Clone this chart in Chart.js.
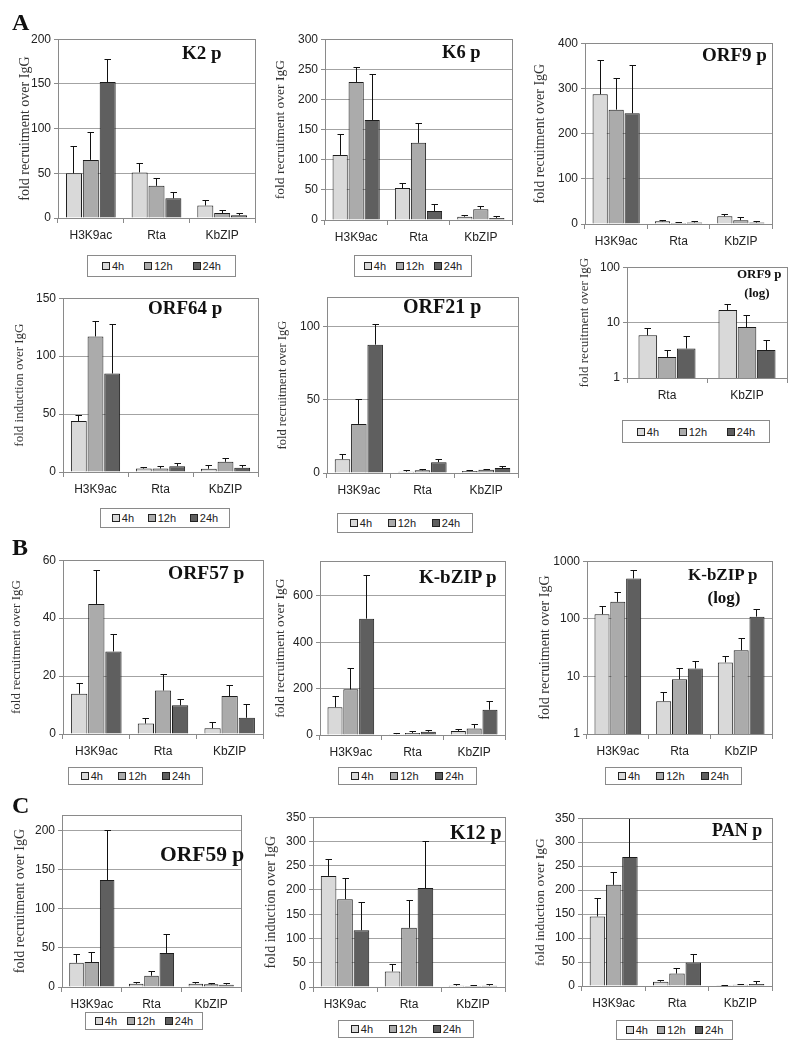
<!DOCTYPE html>
<html><head><meta charset="utf-8">
<script src="https://cdn.jsdelivr.net/npm/chart.js@4.4.0/dist/chart.umd.min.js"></script>
<style>
html,body{margin:0;padding:0;background:#fff;}
#root{position:relative;width:790px;height:1050px;overflow:hidden;background:#fff;}
canvas{position:absolute;}
.t{position:absolute;font-family:'Liberation Serif','Times New Roman',serif;font-weight:bold;line-height:1;white-space:nowrap;color:#111;}
.lg{position:absolute;border:1px solid #8a8a8a;box-sizing:border-box;display:flex;align-items:center;justify-content:space-around;font:11px 'Liberation Sans',Arial,sans-serif;color:#222;background:#fff;padding:0 4px;}
.lg .it{display:flex;align-items:center;}
.lg .sw{display:inline-block;width:6px;height:6px;border:1px solid #222;margin-right:2px;}
</style></head><body><div id="root"></div>
<script>
// ---------- shared labels ----------
const timeLabels = ['4h', '12h', '24h'];
const cats3 = ['H3K9ac', 'Rta', 'KbZIP'];
const cats2 = ['Rta', 'KbZIP'];

// ---------- K2 p ----------
const k2_4h = [50, 51, 14];
const k2_12h = [65, 36, 5.5];
const k2_24h = [152, 22, 3];
const k2_err4h = [30, 9.5, 6];
const k2_err12h = [31, 8, 3];
const k2_err24h = [25, 6, 2];

// ---------- K6 p ----------
const k6_4h = [108, 53, 5.5];
const k6_12h = [229, 128, 18];
const k6_24h = [166, 15, 3.5];
const k6_err4h = [34, 8, 2.5];
const k6_err12h = [24, 32, 4];
const k6_err24h = [76, 10, 2];

// ---------- ORF9 p ----------
const orf9_4h = [287, 5.9, 16.9];
const orf9_12h = [253, 2.4, 8.3];
const orf9_24h = [245, 3.4, 3.2];
const orf9_err4h = [74, 1.9, 4];
const orf9_err12h = [68, 0.7, 5];
const orf9_err24h = [105, 2.1, 1.6];

// ---------- ORF64 p ----------
const orf64_4h = [44, 3, 2.8];
const orf64_12h = [117, 3, 8.8];
const orf64_24h = [85, 5, 3.7];
const orf64_err4h = [5, 1.2, 2.6];
const orf64_err12h = [12.5, 1.8, 2.5];
const orf64_err24h = [42, 2.4, 2];

// ---------- ORF21 p ----------
const orf21_4h = [9.4, 0.9, 1.3];
const orf21_12h = [33.5, 1.8, 2.2];
const orf21_24h = [87.6, 7.4, 3.4];
const orf21_err4h = [3.2, 0.5, 0.5];
const orf21_err12h = [17, 0.7, 0.3];
const orf21_err24h = [14, 1.8, 0.7];

// ---------- ORF57 p ----------
const orf57_4h = [13.9, 3.6, 2];
const orf57_12h = [44.9, 15, 13.1];
const orf57_24h = [28.5, 9.9, 5.6];
const orf57_err4h = [3.4, 1.7, 2];
const orf57_err12h = [11.7, 5.7, 3.8];
const orf57_err24h = [5.8, 2, 4.6];

// ---------- K-bZIP p ----------
const kbzip_4h = [120, 3.7, 17.5];
const kbzip_12h = [197, 8.9, 28.5];
const kbzip_24h = [502, 13.7, 109];
const kbzip_err4h = [44, 1.5, 5];
const kbzip_err12h = [92, 5, 17];
const kbzip_err24h = [188, 4.6, 37];

// ---------- ORF59 p ----------
const orf59_4h = [31, 4.2, 4.2];
const orf59_12h = [32, 14.4, 3.4];
const orf59_24h = [137, 43.6, 3];
const orf59_err4h = [11, 1.7, 1.7];
const orf59_err12h = [12.3, 5, 1.6];
const orf59_err24h = [63.5, 24, 1.6];

// ---------- K12 p ----------
const k12_4h = [229, 32, 2.7];
const k12_12h = [181, 122, 2];
const k12_24h = [117, 204, 2.7];
const k12_err4h = [33, 13.5, 2];
const k12_err12h = [42, 56, 1.4];
const k12_err24h = [58, 95, 2];

// ---------- PAN p ----------
const pan_4h = [145, 9, 1.4];
const pan_12h = [211, 26, 2.7];
const pan_24h = [269, 49, 4];
const pan_err4h = [37, 2.7, 0.6];
const pan_err12h = [25, 9.7, 0.7];
const pan_err24h = [80, 17, 6];

// ---------- styles ----------
const barColors = ['#d9d9d9', '#ababab', '#5f5f5f'];
const sansFont = "'Liberation Sans', Arial, sans-serif";
const serifFont = "'Liberation Serif', 'Times New Roman', serif";
Chart.defaults.font.family = sansFont;

const root = document.getElementById('root');

const errorBarPlugin = {
  id: 'errbars',
  afterDatasetsDraw(chart) {
    const ctx = chart.ctx, ys = chart.scales.y;
    ctx.save();
    ctx.strokeStyle = '#111';
    ctx.lineWidth = 1;
    chart.data.datasets.forEach((ds, i) => {
      const meta = chart.getDatasetMeta(i);
      meta.data.forEach((bar, j) => {
        const v = ds.data[j], e = ds.errors[j];
        if (!e) return;
        const x = Math.round(bar.x - 0.5) + 0.5;
        const y0 = ys.getPixelForValue(v);
        const y1 = Math.round(ys.getPixelForValue(v + e) - 0.5) + 0.5;
        ctx.beginPath();
        ctx.moveTo(x, y0); ctx.lineTo(x, y1);
        ctx.moveTo(x - 3, y1); ctx.lineTo(x + 3.5, y1);
        ctx.stroke();
      });
    });
    ctx.restore();
  }
};

const framePlugin = {
  id: 'frame',
  afterDraw(chart) {
    const a = chart.chartArea, ctx = chart.ctx;
    const l = Math.round(a.left - 0.5) + 0.5, r = Math.round(a.right - 0.5) + 0.5;
    const t = Math.round(a.top - 0.5) + 0.5, b = Math.round(a.bottom - 0.5) + 0.5;
    ctx.save();
    ctx.strokeStyle = '#8a8a8a';
    ctx.lineWidth = 1;
    ctx.strokeRect(l, t, r - l, b - t);
    ctx.restore();
  }
};

function buildPanel(p) {
  const padTop = 8, padRight = 4, xh = 28;
  const left = Math.round(p.titleX - p.titleSize * 0.6);
  const yw = p.L - left;
  const w = p.R - p.L + yw + padRight;
  const h = p.B - p.T + padTop + xh;
  const c = document.createElement('canvas');
  c.width = w; c.height = h;
  c.style.left = left + 'px'; c.style.top = (p.T - padTop) + 'px';
  c.style.width = w + 'px'; c.style.height = h + 'px';
  root.appendChild(c);

  const yScale = p.log ? {
    type: 'logarithmic', min: p.min, max: p.max,
    afterBuildTicks: s => {
      const t = [];
      for (let v = p.min; v <= p.max; v *= 10) t.push({ value: v });
      s.ticks = t;
    },
  } : {
    type: 'linear', min: 0, max: p.max,
    afterBuildTicks: s => { s.ticks = s.ticks.filter(t => Math.abs(t.value % p.step) < 1e-9); },
  };
  Object.assign(yScale, {
    afterFit: s => { s.width = yw; },
    ticks: Object.assign({ font: { size: 12 }, color: '#222', padding: 3, callback: v => String(v) },
      p.log ? {} : { stepSize: p.step }),
    grid: { color: '#a3a3a3', lineWidth: 1, drawTicks: true, tickLength: 4, tickColor: '#8a8a8a' },
    border: { color: '#8a8a8a', width: 1 },
    title: { display: true, text: p.yTitle, color: '#333', padding: { top: 0, bottom: 0 },
      font: { family: serifFont, size: p.titleSize, lineHeight: 1.2 } },
  });

  const sets = p.series.map((s, i) => ({
    label: timeLabels[i], data: s.values, errors: s.errors,
    backgroundColor: barColors[i], borderColor: '#1c1c1c', borderWidth: 1,
    categoryPercentage: p.catPct || 0.77, barPercentage: p.barPct || 0.95,
  }));

  new Chart(c, {
    type: 'bar',
    data: { labels: p.cats, datasets: sets },
    options: {
      responsive: false, animation: false, devicePixelRatio: 1,
      layout: { padding: { top: padTop, right: padRight, left: 0, bottom: 0 } },
      plugins: { legend: { display: false }, tooltip: { enabled: false }, title: { display: false } },
      scales: {
        x: {
          afterFit: s => { s.height = xh; },
          ticks: { font: { size: 12 }, color: '#222', padding: 5 },
          grid: { offset: true, drawOnChartArea: false, drawTicks: true, tickLength: 5, color: '#8a8a8a' },
          border: { color: '#8a8a8a', width: 1 },
        },
        y: yScale,
      },
    },
    plugins: [errorBarPlugin, framePlugin],
  });
}

function addText(txt, x, cy, size, center) {
  const d = document.createElement('div');
  d.className = 't';
  d.textContent = txt;
  d.style.fontSize = size + 'px';
  d.style.top = (cy - size * 0.5065) + 'px';
  if (center) { d.style.left = x + 'px'; d.style.transform = 'translateX(-50%)'; }
  else d.style.left = x + 'px';
  root.appendChild(d);
}

function addLegend(x1, y1, x2, y2) {
  const d = document.createElement('div');
  d.className = 'lg';
  d.style.left = x1 + 'px'; d.style.top = y1 + 'px';
  d.style.width = (x2 - x1) + 'px'; d.style.height = (y2 - y1) + 'px';
  timeLabels.forEach((t, i) => {
    const it = document.createElement('span'); it.className = 'it';
    const sw = document.createElement('span'); sw.className = 'sw'; sw.style.background = barColors[i];
    const tx = document.createElement('span'); tx.textContent = t;
    it.appendChild(sw); it.appendChild(tx); d.appendChild(it);
  });
  root.appendChild(d);
}

const REC = 'fold recruitment over IgG';
const RECU = 'fold recuitment over IgG';
const IND = 'fold induction over IgG';

const ser = (a, b, c, ea, eb, ec) => [
  { values: a, errors: ea }, { values: b, errors: eb }, { values: c, errors: ec }];

const panels = [
  { cats: cats3, series: ser(k2_4h, k2_12h, k2_24h, k2_err4h, k2_err12h, k2_err24h),
    L: 58, T: 37, R: 255, B: 218, titleX: 25, titleSize: 14, yTitle: REC, max: 200, step: 50 },
  { cats: cats3, series: ser(k6_4h, k6_12h, k6_24h, k6_err4h, k6_err12h, k6_err24h),
    L: 325, T: 37, R: 512, B: 220, titleX: 280, titleSize: 13.5, yTitle: REC, max: 300, step: 50 },
  { cats: cats3, series: ser(orf9_4h, orf9_12h, orf9_24h, orf9_err4h, orf9_err12h, orf9_err24h),
    L: 585, T: 41, R: 772, B: 224, titleX: 540, titleSize: 14, yTitle: RECU, max: 400, step: 100 },
  { cats: cats3, series: ser(orf64_4h, orf64_12h, orf64_24h, orf64_err4h, orf64_err12h, orf64_err24h),
    L: 63, T: 296, R: 258, B: 472, titleX: 20, titleSize: 13, yTitle: IND, max: 150, step: 50 },
  { cats: cats3, series: ser(orf21_4h, orf21_12h, orf21_24h, orf21_err4h, orf21_err12h, orf21_err24h),
    L: 327, T: 295, R: 518, B: 473, titleX: 282, titleSize: 12.5, yTitle: REC, max: 120, step: 50 },
  { cats: cats2, series: ser(orf9_4h.slice(1), orf9_12h.slice(1), orf9_24h.slice(1),
      orf9_err4h.slice(1), orf9_err12h.slice(1), orf9_err24h.slice(1)),
    L: 627, T: 265, R: 787, B: 378, titleX: 585, titleSize: 13, yTitle: RECU, log: true, min: 1, max: 100,
    catPct: 0.72, barPct: 0.97 },
  { cats: cats3, series: ser(orf57_4h, orf57_12h, orf57_24h, orf57_err4h, orf57_err12h, orf57_err24h),
    L: 63, T: 558, R: 263, B: 734, titleX: 17, titleSize: 13, yTitle: REC, max: 60, step: 20 },
  { cats: cats3, series: ser(kbzip_4h, kbzip_12h, kbzip_24h, kbzip_err4h, kbzip_err12h, kbzip_err24h),
    L: 320, T: 559, R: 505, B: 735, titleX: 280, titleSize: 13.5, yTitle: REC, max: 750, step: 200 },
  { cats: cats3, series: ser(kbzip_4h, kbzip_12h, kbzip_24h, kbzip_err4h, kbzip_err12h, kbzip_err24h),
    L: 587, T: 559, R: 772, B: 734, titleX: 545, titleSize: 14, yTitle: REC, log: true, min: 1, max: 1000 },
  { cats: cats3, series: ser(orf59_4h, orf59_12h, orf59_24h, orf59_err4h, orf59_err12h, orf59_err24h),
    L: 62, T: 813, R: 241, B: 987, titleX: 20, titleSize: 14, yTitle: REC, max: 220, step: 50 },
  { cats: cats3, series: ser(k12_4h, k12_12h, k12_24h, k12_err4h, k12_err12h, k12_err24h),
    L: 313, T: 815, R: 505, B: 987, titleX: 271, titleSize: 14, yTitle: IND, max: 350, step: 50 },
  { cats: cats3, series: ser(pan_4h, pan_12h, pan_24h, pan_err4h, pan_err12h, pan_err24h),
    L: 582, T: 816, R: 772, B: 986, titleX: 540, titleSize: 13.5, yTitle: IND, max: 350, step: 50 },
];
panels.forEach(buildPanel);

// panel titles
addText('K2 p', 182, 53, 19);
addText('K6 p', 442, 52, 18.5);
addText('ORF9 p', 702, 55, 19);
addText('ORF64 p', 148, 308, 19);
addText('ORF21 p', 403, 306, 20);
addText('ORF9 p', 737, 274, 13);
addText('(log)', 757, 293, 13, true);
addText('ORF57 p', 168, 573, 19.5);
addText('K-bZIP p', 419, 577, 19);
addText('K-bZIP p', 688, 575, 17);
addText('(log)', 724, 598, 17, true);
addText('ORF59 p', 160, 855, 21.5);
addText('K12 p', 450, 832, 20);
addText('PAN p', 712, 830, 18);
// section letters
addText('A', 12, 21.7, 24);
addText('B', 12, 547.5, 24);
addText('C', 12, 805.5, 24);

// legends
addLegend(87, 255, 236, 277);
addLegend(354, 255, 472, 277);
addLegend(100, 508, 230, 528);
addLegend(337, 513, 473, 533);
addLegend(622, 420, 770, 443);
addLegend(68, 767, 203, 785);
addLegend(338, 767, 477, 785);
addLegend(605, 767, 742, 785);
addLegend(85, 1012, 203, 1030);
addLegend(338, 1020, 474, 1038);
addLegend(616, 1020, 733, 1040);
</script></body></html>
